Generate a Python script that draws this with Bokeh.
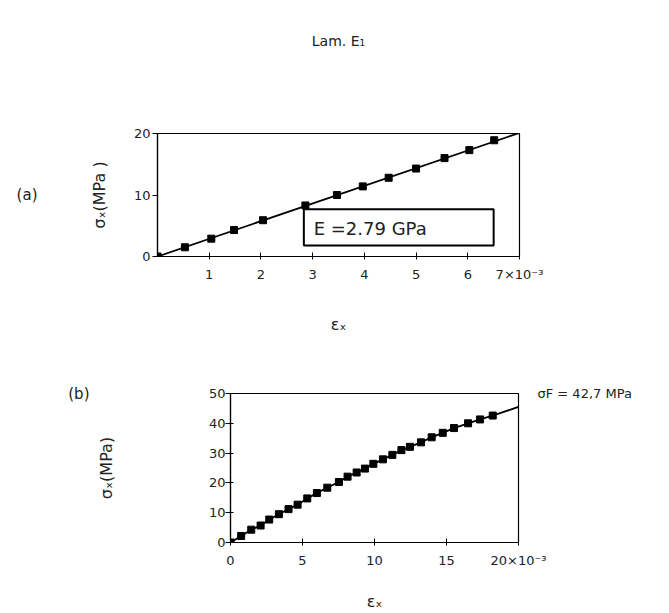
from bokeh.plotting import figure
from bokeh.models import Range1d, Label, BoxAnnotation, FixedTicker, LinearAxis
from bokeh.embed import file_html
from bokeh.resources import INLINE

# ---- data (strain in 10^-3, stress in MPa) ----
strain_a = [0, 0.53, 1.04, 1.48, 2.04, 2.86, 3.47, 3.97, 4.47, 5.0, 5.55, 6.03, 6.51]
stress_a = [0, 1.5, 2.9, 4.3, 5.9, 8.3, 10.0, 11.4, 12.8, 14.3, 16.0, 17.3, 18.9]
fit_x_a = [0, 7]
fit_y_a = [0, 20.1]

strain_b = [0, 0.74, 1.44, 2.09, 2.69, 3.36, 4.03, 4.66, 5.33, 6.00, 6.72, 7.53, 8.13,
            8.76, 9.34, 9.92, 10.59, 11.24, 11.87, 12.46, 13.23, 13.97, 14.74, 15.52,
            16.50, 17.33, 18.21]
stress_b = [0, 2.2, 4.3, 5.7, 7.7, 9.5, 11.2, 12.7, 14.8, 16.6, 18.4, 20.3, 22.1,
            23.5, 24.8, 26.4, 27.9, 29.4, 31.0, 32.1, 33.6, 35.3, 36.8, 38.4,
            40.0, 41.3, 42.6]
fit_x_b = strain_b + [20.0]
fit_y_b = stress_b + [45.5]

ticks_a_x = [1, 2, 3, 4, 5, 6, 7]
ticks_a_y = [0, 10, 20]
ticks_b_x = [0, 5, 10, 15, 20]
ticks_b_y = [0, 10, 20, 30, 40, 50]

FONT = "DejaVu Sans"
INK = "#222222"


def style(p, xt, yt, last_label):
    p.xaxis.ticker = FixedTicker(ticks=xt)
    p.yaxis.ticker = FixedTicker(ticks=yt)
    p.xaxis.major_label_overrides = {xt[-1]: last_label}
    for ax in (p.xaxis[0], p.yaxis[0]):
        ax.axis_line_color = "black"
        ax.axis_line_width = 1.2
        ax.major_tick_line_color = "black"
        ax.minor_tick_line_color = None
        ax.major_label_text_font = FONT
        ax.major_label_text_font_size = "13px"
        ax.major_label_text_color = INK
        ax.axis_label_text_font = FONT
        ax.axis_label_text_font_size = "16px"
        ax.axis_label_text_font_style = "normal"
        ax.axis_label_text_color = INK
    p.xaxis.major_tick_in = 4
    p.xaxis.major_tick_out = 3
    p.yaxis.major_tick_in = 0
    p.yaxis.major_tick_out = 5
    p.xaxis.major_label_standoff = 7
    p.yaxis.major_label_standoff = 2
    p.xgrid.visible = False
    p.ygrid.visible = False
    p.outline_line_color = "black"
    p.outline_line_width = 1.2
    p.background_fill_color = "white"
    p.border_fill_color = "white"


def text_axis(p, side, text, standoff, align="center", size="14px"):
    # a tick-less axis used only to carry a text in the plot's border
    ax = LinearAxis(ticker=FixedTicker(ticks=[]), axis_label=text,
                    axis_line_color=None, major_tick_line_color=None,
                    minor_tick_line_color=None, major_label_text_font_size="0px",
                    axis_label_standoff=standoff, axis_label_text_font=FONT,
                    axis_label_text_font_size=size, axis_label_text_font_style="normal",
                    axis_label_text_color=INK)
    if side in ("left", "right"):
        ax.axis_label_orientation = "horizontal"
    ax.axis_label_align = align
    p.add_layout(ax, side)


# ---- panel (a) ----
pa = figure(width=669, height=340, output_backend="svg", toolbar_location=None,
            x_range=Range1d(0, 7), y_range=Range1d(0, 20),
            min_border_left=157, min_border_right=150, min_border_top=133,
            min_border_bottom=84)
style(pa, ticks_a_x, ticks_a_y, "7×10⁻³")
pa.xaxis.axis_label = "εₓ"
pa.yaxis.axis_label = "σₓ(MPa )"
pa.xaxis.axis_label_standoff = 30
pa.yaxis.axis_label_standoff = 22
pa.line(fit_x_a, fit_y_a, line_color="black", line_width=1.8)
pa.scatter(strain_a, stress_a, marker="square", size=7, color="black")
pa.add_layout(BoxAnnotation(left=2.83, right=6.5, bottom=1.8, top=7.7,
                            fill_color=None, fill_alpha=0, line_color="black",
                            line_alpha=1.0, line_width=2))
pa.add_layout(Label(x=3.02, y=4.6, text="E =2.79  GPa", text_font=FONT,
                    text_font_size="18px", text_color=INK, text_baseline="middle"))
text_axis(pa, "above", "Lam. E₁", 85, size="14px")
text_axis(pa, "left", "(a)", 49, size="15px")

# ---- panel (b) ----
pb = figure(width=669, height=273, output_backend="svg", toolbar_location=None,
            x_range=Range1d(0, 20), y_range=Range1d(0, 50),
            min_border_left=230, min_border_right=151, min_border_top=53,
            min_border_bottom=69)
style(pb, ticks_b_x, ticks_b_y, "20×10⁻³")
pb.yaxis.major_tick_in = 3
pb.yaxis.major_label_standoff = 0
pb.xaxis.axis_label = "εₓ"
pb.yaxis.axis_label = "σₓ(MPa)"
pb.xaxis.axis_label_standoff = 21
pb.yaxis.axis_label_standoff = 90
pb.line(fit_x_b, fit_y_b, line_color="black", line_width=1.8)
pb.scatter(strain_b, stress_b, marker="square", size=7, color="black")
text_axis(pb, "left", "(b)", 4, align="end", size="15px")
text_axis(pb, "right", "σF = 42,7 MPa", 19, align="end", size="13px")

open("out.html", "w").write(file_html([pa, pb], INLINE))
